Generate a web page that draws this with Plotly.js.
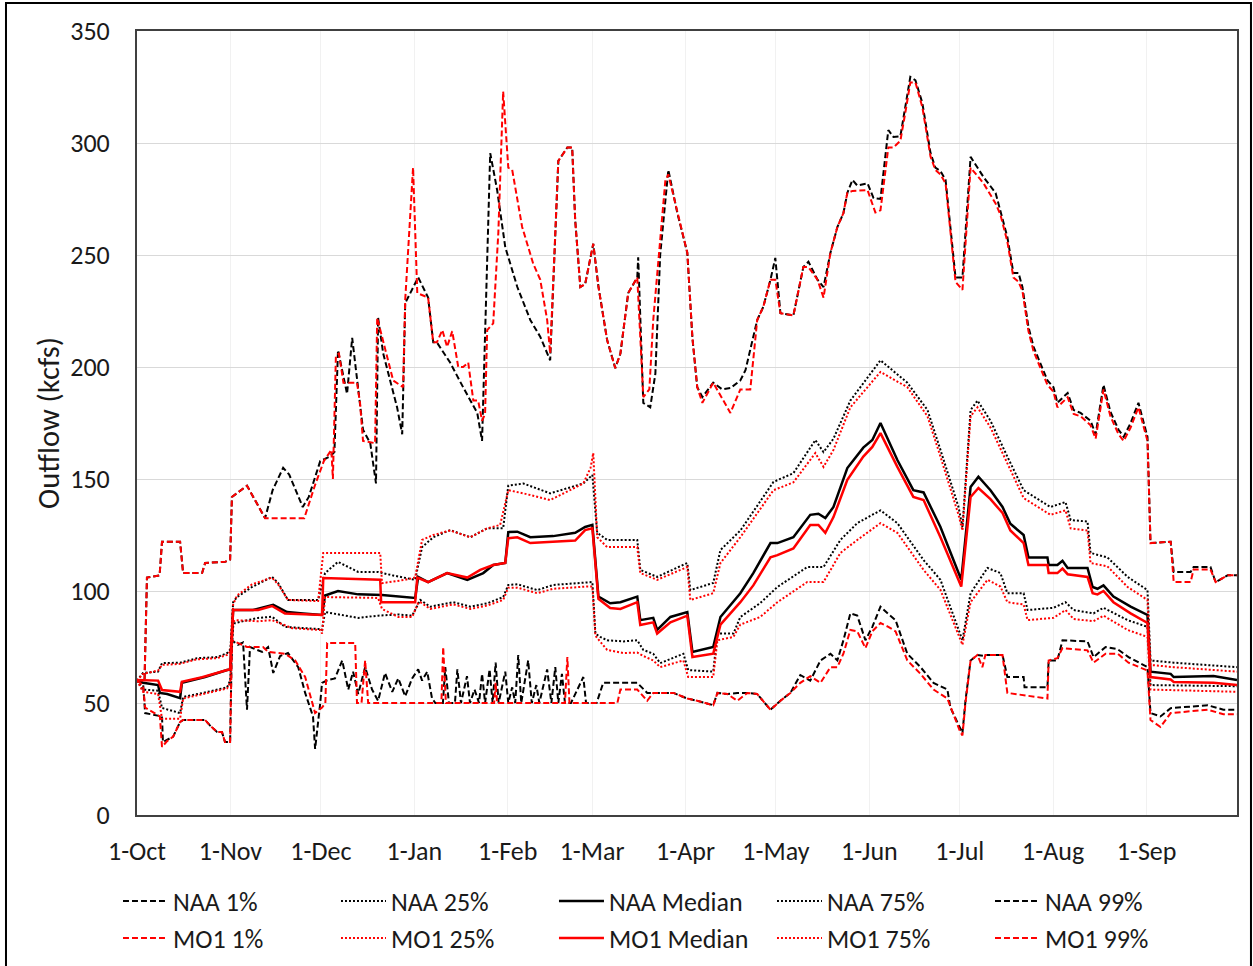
<!DOCTYPE html>
<html>
<head>
<meta charset="utf-8">
<script src="https://cdn.plot.ly/plotly-3.0.1.min.js"></script>
<style>html,body{margin:0;padding:0;background:#fff;}#chart{width:1253px;height:966px;}</style>
</head>
<body>
<div id="chart"></div>
<script>
// x = days since 1-Oct, y = outflow (kcfs)
const monthTicks = [0, 31, 61, 92, 123, 151, 182, 212, 243, 273, 304, 335];
const monthLabels = ['1-Oct', '1-Nov', '1-Dec', '1-Jan', '1-Feb', '1-Mar', '1-Apr', '1-May', '1-Jun', '1-Jul', '1-Aug', '1-Sep'];
const yTicks = [0, 50, 100, 150, 200, 250, 300, 350];

const naa1 = [[0,60],[2,59],[2.7,45.5],[8.3,44],[8.6,32.6],[12,35],[14.3,41.5],[15.3,42.4],[22.6,42.4],[24.2,40],[26.6,37],[28.2,37],[29.2,32.6],[30.9,32.6],[31.5,78],[33.5,76],[35.2,77],[36.5,47],[37.5,75],[41.5,72.8],[43.5,75],[45.2,63.4],[47.5,71],[50.1,72.3],[53.5,66],[55.8,54.5],[58.4,44],[59.1,29.5],[60.8,50],[61.4,59],[63.4,60.3],[65.7,61],[68.1,69],[70.1,56],[71.7,64],[73.4,54],[75.7,66],[78,56],[80,51],[82.3,63.4],[84.7,55],[86.7,61],[89,53],[91.3,61],[93.3,65],[94.6,60],[96.3,64],[97.9,52],[99,50],[101.5,50],[102.3,66],[103.5,50],[105.5,50],[106.3,65],[107.5,50],[109.5,62],[110.5,50],[112,56],[113.5,50],[114.5,63],[115.5,50],[117,65],[118,50],[119,68],[120,50],[122.2,64],[123.2,50],[124.5,57],[125.5,50],[126.5,71.4],[127.5,50],[129.8,69],[131,50],[132.5,58],[133.5,50],[136.1,65],[137.5,50],[138.8,66],[139.8,50],[141,63],[142,50],[144,50],[148.1,61.6],[149,50],[152.5,50],[154.7,59],[166,59],[169.3,54.5],[171.3,54.5],[178,54.5],[182.6,52],[185.9,51],[191.2,49],[192.6,54.5],[195.9,54],[199.2,54.5],[202.5,54.5],[205.8,54],[210.2,47],[213.5,51],[216.8,54.5],[220.1,62.5],[223.4,60],[226.8,69],[230.1,72],[232.4,69],[234.4,78],[236.7,90],[239,89],[241.7,78],[244,84],[246.7,93],[249.3,89.7],[251.7,87],[255.6,72],[260,66],[264.3,59],[268.9,56],[269.9,48],[273.2,38],[273.9,36.6],[274.9,51],[276.6,69],[278.9,71.4],[280.9,71],[281.5,71.4],[287.2,71.4],[288.8,61.6],[294.2,61.6],[294.5,57],[302.1,57],[302.5,69],[305.4,69],[307.1,78],[315.4,77.5],[317.4,70.5],[321.4,75],[325.4,74],[329,70.5],[335.3,66],[336.3,45.5],[339.6,44],[343,47.7],[355.3,49],[360.5,47],[365,47]];

const naa25 = [[0,60],[2,56],[7,55.5],[8.3,47.8],[14.3,45.5],[15.3,52.7],[21.9,54.5],[29.9,57],[30.9,60],[31.9,84],[32.5,85.7],[40.2,88],[44.8,88.5],[49.1,84],[60.8,83],[61.4,82.6],[62.4,90.6],[68.1,89.3],[73.4,88],[80,89],[86.7,89.5],[91.3,89],[93.3,93.8],[94,96],[97.3,93],[104.9,95],[110.6,93],[116.2,94.5],[121.5,97.3],[123.2,102.7],[126.2,103],[132.8,100.4],[138.1,102.7],[149.4,104],[151.1,104],[152.1,81],[153.7,79.5],[156,78],[161.4,77.5],[166,78],[168,73.7],[171.3,72],[173.6,67.8],[181.3,72],[182.9,64.7],[191.2,64],[192.6,81],[197.9,81],[200.2,88.4],[206.8,94.6],[212.5,101.8],[222.4,110.7],[227.8,110.7],[233.4,122.8],[239,130.3],[246.7,136],[252.3,130.3],[261,113.8],[266.6,105],[273.9,78],[276.6,99],[282.2,110.3],[286.5,108],[288.8,99],[294.2,99],[295.5,91.5],[304.1,92.5],[308.1,95],[310.8,91.5],[317.4,90],[320.7,92.5],[328.7,87],[335.3,84],[336.3,58],[365,57.5]];

const naaMedian = [[0,60],[2,59],[7,58],[7.6,54.5],[10,54],[14.3,52.2],[14.9,59],[21.6,61],[22.6,61.6],[29.9,64.7],[30.9,65],[31.9,91.5],[38.5,91.5],[45.2,93.8],[49.8,90.6],[55.1,90],[61.4,89.3],[62.4,98],[66.7,100],[73.4,98.5],[81.3,98.2],[92.3,96.9],[93.3,106.3],[96.6,104],[102.9,108],[109.6,105],[114.9,108],[118.2,111.6],[122.2,112.5],[123.2,126.3],[126.2,126.5],[130.5,124],[138.1,124.5],[145.4,126],[148.7,128.6],[151.1,129.5],[153.1,97.5],[157,94.5],[160.4,95],[166,97.5],[167,87],[171.3,88],[172.6,82.6],[177,88.4],[182.6,90.6],[184.3,72.8],[191.2,75],[193.6,88.4],[200.2,99],[204.5,108],[210.2,121.4],[212.5,121.4],[217.8,124],[223.4,134],[226.1,134.5],[228.4,132.6],[231.1,137.5],[235.7,154.9],[241,164],[244,167.4],[246.7,175],[252.3,158.5],[257.6,145],[261,144],[266.6,128.6],[273.5,105],[276.6,146.4],[279.2,151],[283.2,145],[287.2,137.5],[289.8,130],[294.2,125],[295.8,115],[302.1,115],[302.5,111.6],[305.4,111.6],[307.1,113.5],[308.8,110.3],[315.4,110.3],[317.1,101.8],[318.7,101],[320.7,102.5],[324,97.5],[329.7,93],[335.3,89.3],[336.3,64],[343,63],[344,61.6],[357.2,62],[365,60.3]];

const naa75 = [[0,60],[2,63.4],[7,64],[8.3,67.8],[14.3,68],[19.9,70],[26.6,70.5],[29.9,72.3],[31,74],[31.9,95],[33.2,97.3],[38.2,101.8],[44.8,106.3],[46.8,103.6],[50.1,96],[60.1,96],[62.4,108],[66.7,113],[73.4,108.5],[80,108.5],[84.7,107],[92.3,105],[94.6,119.6],[98.3,124],[103.9,127.2],[110.6,124],[116.2,128],[121.5,128],[123.2,147],[128.2,148],[137.1,143.6],[148.1,148],[151.1,151.8],[152.7,126],[156,122.8],[166,122.8],[167,109.4],[172.6,106.3],[182.6,112.5],[183.6,100.4],[191.2,103.6],[193.6,118.3],[200.2,127],[211.2,148.7],[217.8,152.6],[225.1,167.4],[227.8,162],[231.1,168],[236.7,185],[246.7,203],[255.6,193],[262.3,180.8],[266.6,163],[272.6,137.5],[273.9,128.6],[276.6,180.8],[278.9,185],[283.2,176],[288.8,160],[294.2,145],[303.1,137.5],[308.1,139.7],[309.8,131.7],[315.4,131],[316.4,117],[322,115],[328.7,106.3],[335.3,100.4],[336.3,69],[344,68],[365,66]];

const naa99 = [[0,60],[2.5,60],[3.3,106],[7.5,107],[8.3,122],[14.3,122],[15.3,108],[21.6,108],[22.6,112.5],[29.2,113],[30.9,114],[31.5,142],[36.5,147],[42.5,132.5],[45,145],[48.5,155],[50.5,152],[55,137.5],[57,142],[60.8,158],[64,160],[65.5,162],[66.7,207.5],[69.7,188],[71.4,213],[73,194],[75,172],[77.4,166],[79.3,148],[80,222],[81.7,206],[86.3,182],[88,170],[89,228.5],[93.3,240],[96.6,231],[98.3,211],[99.5,211],[103.9,202],[108.2,191],[112.9,179.5],[114.5,167],[117.2,295.5],[119.5,279],[122.2,253.5],[126.2,235.7],[130.5,221],[133.8,213.5],[137.1,203],[139.8,292],[142.8,298],[144.4,298],[145.4,265.6],[147.1,235.7],[148.7,237],[151.4,255],[153.1,236],[156,212],[158.7,199.5],[160.4,206],[163,233],[166,240],[166.3,249],[168,184],[170.3,182],[172,197],[173.6,250],[176.3,288],[179.3,268.7],[182.6,251],[184.3,213],[185.9,191],[187.6,186.6],[191.2,193],[194.2,190],[196.9,190.6],[200.2,194],[201.9,198.6],[205.8,221],[207.8,226.8],[210.2,239],[211.8,248.7],[213.5,224],[217.8,223],[221.1,244.6],[222.8,247],[225.8,239],[227.8,235.7],[230.1,251],[232.4,262.5],[234.4,268.7],[235.7,277.7],[237.4,283.5],[239,281],[242.4,282],[244.4,275.4],[246.7,275],[249.3,305.8],[251,302.7],[253.3,303],[255,316],[256.6,329.5],[258.3,328],[260.6,317.8],[263.3,295.5],[264.9,289],[266.6,287.5],[268.3,283.5],[271.6,240],[273.9,240],[276.6,293.8],[280.9,284.8],[284.9,277.7],[286.5,270],[288.8,258],[290.8,242],[292.5,242],[293.8,235.7],[295.8,217.9],[297.5,209],[299.8,201.8],[302.1,194],[304.1,191],[305.4,184],[308.8,188.4],[310.8,180.8],[313.1,179.5],[316.4,176],[318.1,170],[320.7,192],[323,180],[325.7,172],[327.4,168.8],[329.7,175],[332.3,184],[334,176],[335.3,168.8],[336.3,121.4],[343,122],[344,108.5],[349.6,108.5],[350.6,110.7],[356.2,110.7],[357.9,104],[361.9,107],[365,107]];

const mo1_1 = [[0,60],[2,58],[2.7,48],[7.6,44],[8.3,30.4],[10,33],[12,35],[14.3,41.5],[15.3,42.4],[22.6,42.4],[24.2,40],[26.6,37],[28.2,37],[29.2,32.6],[30.9,32.6],[31.5,78],[36.5,75],[41.8,75],[43.5,72.8],[46.8,72.3],[49.1,72],[52.5,69],[55.8,61.6],[59.1,45.5],[61.4,48],[62.5,50],[63.1,76.8],[72.4,76.8],[73,50],[74.5,50],[75.7,69],[76.7,50],[101,50],[101.6,75],[102.5,50],[118.5,50],[119,59],[119.5,50],[142,50],[142.8,70.5],[143.5,50],[159.4,50],[160.4,56],[166,56],[169.3,51],[171.3,54.5],[178,54.5],[182.6,52],[185.9,51],[191.2,49],[192.6,54.5],[195.9,54],[199.2,51],[202.5,54.5],[205.8,54],[210.2,47],[213.5,51],[216.8,54.5],[220.1,59],[223.4,62],[226.8,59],[230.1,66],[232.4,66],[234.4,72],[236.7,82.6],[239,82],[241.7,74.5],[244,82],[246.7,85.7],[249.3,84],[251.7,82],[255.6,69],[260,63],[264.3,56],[268.9,52],[273.2,37],[273.9,35.5],[274.9,50],[276.6,69],[278.9,71.4],[280.5,66],[281.5,71.4],[287.2,71.4],[288.8,54.5],[302.1,52],[302.5,69],[305.4,70],[307.1,74.5],[315.4,73.5],[317.4,68],[321.4,72],[325.4,72],[329,68],[335.3,64.5],[336.3,42.4],[339.6,39.3],[343,45.5],[355.3,47],[360.5,45],[365,45]];

const mo1_25 = [[0,60],[2,55],[7,54],[8.3,43],[14.3,43],[15.3,52],[21.9,54],[29.9,56.5],[30.9,59],[31.9,86],[32.5,87],[40.2,86.5],[44.8,87],[51.5,83.4],[60.8,82.6],[61.4,81],[62.4,97.3],[80,96.9],[81.3,92],[86.7,88.4],[91.3,88.4],[93.3,94.6],[94,95],[97.3,92],[104.9,94],[110.6,92],[116.2,93.5],[121.5,96],[123.2,101.5],[126.2,101.5],[132.8,99],[138.1,101],[149.4,102],[151.1,102],[152.1,80],[153.7,77.5],[156,73.7],[161.4,72.3],[166,72.5],[168,71],[171.3,69],[173.6,66],[181.3,69],[182.9,61.6],[191.2,61.6],[192.6,78],[197.9,79.5],[200.2,85],[206.8,88.4],[212.5,95],[222.4,104],[227.8,104],[233.4,117],[239,122.8],[246.7,130.3],[252.3,126],[261,109.4],[266.6,100.5],[273.9,76],[276.6,95],[282.2,105],[286.5,102],[288.8,95],[294.2,94],[295.5,87],[304.1,88],[308.1,91.5],[310.8,87.5],[317.4,86.5],[320.7,89],[328.7,82.6],[335.3,79.5],[336.3,56],[365,55]];

const mo1Median = [[0,60.3],[2,60.3],[7,60],[8.3,55.8],[14.3,55],[14.9,59.5],[21.6,61.5],[29.9,64.7],[30.9,65],[31.9,91.5],[40.2,91.5],[44.8,93.3],[49.1,90],[61.4,89.3],[61.8,105.8],[80.7,105],[81,95],[92.3,95],[93,106],[96.6,104],[102.9,108],[109.6,106],[113.9,109.4],[118.2,111.6],[122.2,112.5],[123.2,123.6],[126.2,124],[130.5,121.4],[138.1,122],[145.4,122.5],[148.7,127.2],[151.1,128],[153.1,96.5],[157,92.4],[160.4,92],[166,95],[167,84.8],[171.3,86],[172.6,81],[177,86],[182.6,89],[184.3,70.5],[191.2,72],[193.6,85],[200.2,95],[204.5,102.5],[210.2,115],[212.5,116],[217.8,119],[223.4,129.5],[226.1,129.5],[228.4,126],[231.1,133],[235.7,149.6],[241,160],[244,164.3],[246.7,170.5],[252.3,155.4],[257.6,142],[261,140.6],[266.6,124],[273.5,102],[276.6,142],[279.2,146],[283.2,141],[287.2,134.8],[289.8,127],[294.2,121.4],[295.8,111.6],[302.1,111.6],[302.5,108],[305.4,108],[307.1,110],[308.8,107.5],[315.4,106.3],[317.1,99],[318.7,98.5],[320.7,100],[324,95],[329.7,90],[335.3,85.7],[336.3,61.6],[343,60.5],[344,59.4],[357.2,59],[365,58]];

const mo1_75 = [[0,60],[2,63],[7,64.5],[8.3,67],[14.3,67.5],[19.9,69.5],[26.6,70],[29.9,71.5],[31,73],[31.9,94],[33.2,98],[38.2,103],[44.8,106],[46.8,103],[50.1,96],[60.1,95.5],[61.8,117],[80.7,117],[81.3,103.5],[89,105],[92.3,106],[94.6,122.8],[98.3,125],[103.9,127],[110.6,124],[116.2,128],[120.5,129.5],[123.2,145],[128.2,143.6],[137.1,140.6],[148.1,148],[150.5,155],[151.4,161.6],[152.7,124],[156,119.6],[166,119.6],[167,108],[172.6,105],[182.6,110.7],[183.6,96],[191.2,99],[193.6,112.5],[200.2,124],[211.2,145],[217.8,148.5],[225.1,161.6],[227.8,155.4],[231.1,163],[236.7,182],[246.7,197.8],[255.6,191],[262.3,178],[266.6,160],[272.6,134],[273.9,127],[276.6,178],[278.9,182],[283.2,173],[288.8,157],[294.2,141.5],[303.1,134],[308.1,136],[309.8,128],[315.4,127],[316.4,112.5],[322,111],[328.7,101.8],[335.3,96],[336.3,67],[344,66],[365,64]];

const mo1_99 = [[0,60],[2.5,60],[3.3,106],[7.5,107],[8.3,122],[14.3,122],[15.3,108],[21.6,108],[22.6,112.5],[29.2,113],[30.9,114],[31.5,142],[36.5,147],[42.5,132.5],[55.5,132.5],[59,147],[62,158],[64.5,163],[65,150],[66,205],[67,206],[68.5,193],[71,193],[73,193],[74,184],[75,167],[79,166],[79.7,222],[85,194],[88.3,191],[89,230],[91.6,289],[93,233],[96.6,231],[98.3,211],[99.5,211],[101.3,216.5],[102.9,209],[104.6,216],[106.6,200],[108.2,200],[109.9,202],[111.6,185],[113.2,185],[114.5,176],[115.5,179],[116.2,216.5],[118.2,219.5],[119.9,260],[121.5,323],[123.2,289],[124.5,288],[127.8,262.5],[131.5,246],[133.8,239],[136.1,221],[137.1,206],[139.8,292],[142.8,298],[144.4,298],[145.4,265.6],[147.1,235.7],[148.7,237],[151.4,255],[153.1,236],[156,212],[158.7,199.5],[160.4,206],[163,233],[166,240],[168,186.6],[170,190],[171.3,221],[175.3,283],[176.3,286],[179.3,268.7],[182.6,251],[184.3,213],[185.9,191],[187.6,184],[191.2,193],[196.9,179.5],[200.2,190],[203.5,190],[205.8,221],[207.8,226.8],[210.2,239],[211.8,239],[213.5,224],[217.8,223],[221.1,244.6],[222.8,244.6],[225.8,239],[227.8,231],[230.1,251],[232.4,262.5],[234.4,268.7],[235.7,277.7],[237.4,278.6],[242.4,279],[245,269],[246.7,270],[249.3,298],[251,298],[253.3,301],[255,314],[256.6,327],[258.3,327],[260.6,316],[263.3,294],[264.9,288],[266.6,286],[268.3,282],[271.6,238],[273.9,234.4],[276.6,289],[280.9,282],[284.9,273],[286.5,268],[288.8,256],[290.8,240],[292.5,238],[293.8,234],[295.8,216],[297.5,207],[299.8,199.5],[302.1,192],[304.1,189],[305.4,182],[308.8,186.5],[310.8,179],[313.1,178],[316.4,174],[318.1,168],[320.7,190],[323,178],[325.7,170],[327.4,167],[329.7,173],[332.3,182],[334,174],[335.3,167],[336.3,121.4],[343,122],[344,104],[349.6,104],[350.6,109.6],[356.2,109.6],[357.9,104],[361.9,107],[365,107]];

const seriesNames = ['NAA 1%', 'NAA 25%', 'NAA Median', 'NAA 75%', 'NAA 99%', 'MO1 1%', 'MO1 25%', 'MO1 Median', 'MO1 75%', 'MO1 99%'];
const seriesData = [naa1, naa25, naaMedian, naa75, naa99, mo1_1, mo1_25, mo1Median, mo1_75, mo1_99];

const BLACK = '#000000', RED = '#ff0000';
const styles = [
  {color: BLACK, width: 2, dash: '6px,3px'},
  {color: BLACK, width: 2, dash: '2px,2px'},
  {color: BLACK, width: 2.5, dash: 'solid'},
  {color: BLACK, width: 2, dash: '2px,2px'},
  {color: BLACK, width: 2, dash: '6px,3px'},
  {color: RED, width: 2, dash: '6px,3px'},
  {color: RED, width: 2, dash: '2px,2px'},
  {color: RED, width: 2.5, dash: 'solid'},
  {color: RED, width: 2, dash: '2px,2px'},
  {color: RED, width: 2, dash: '6px,3px'}
];

const traces = seriesData.map((d, i) => ({
  type: 'scatter',
  mode: 'lines',
  name: seriesNames[i],
  x: d.map(p => p[0]),
  y: d.map(p => p[1]),
  line: styles[i],
  hoverinfo: 'x+y+name'
}));

const FONT = 'Carlito, Lato, "Open Sans", sans-serif';
const TXT = '#1a1a1a';
const layout = {
  width: 1253,
  height: 966,
  margin: {l: 137, r: 16, t: 31, b: 151, autoexpand: false},
  paper_bgcolor: '#ffffff',
  plot_bgcolor: '#ffffff',
  font: {family: FONT, size: 26, color: TXT},
  showlegend: true,
  xaxis: {
    range: [0, 365],
    tickmode: 'array',
    tickvals: monthTicks,
    ticktext: monthLabels,
    ticks: '',
    showgrid: true,
    gridcolor: '#f1f1f1',
    gridwidth: 1,
    zeroline: false,
    showline: true,
    mirror: true,
    linecolor: '#404040',
    linewidth: 2,
    ticklabelstandoff: 12,
    tickfont: {family: FONT, size: 26, color: TXT}
  },
  yaxis: {
    range: [0, 350],
    tickmode: 'array',
    tickvals: yTicks,
    ticks: '',
    showgrid: true,
    gridcolor: '#d9d9d9',
    gridwidth: 1,
    zeroline: false,
    showline: true,
    mirror: true,
    linecolor: '#404040',
    linewidth: 2,
    ticklabelstandoff: 20,
    tickfont: {family: FONT, size: 26, color: TXT},
    title: {text: 'Outflow (kcfs)', font: {family: FONT, size: 30.5, color: TXT}, standoff: 2}
  },
  legend: {
    orientation: 'h',
    x: -0.0173,
    xanchor: 'left',
    y: -0.08,
    yanchor: 'top',
    entrywidth: 158,
    entrywidthmode: 'pixels',
    itemwidth: 45,
    font: {family: FONT, size: 26, color: TXT},
    bgcolor: 'rgba(0,0,0,0)',
    traceorder: 'normal'
  },
  shapes: [{
    type: 'rect', xref: 'paper', yref: 'paper',
    x0: -0.1191, x1: 1.0127, y0: -0.21, y1: 1.0357,
    line: {color: '#000000', width: 2}, fillcolor: 'rgba(0,0,0,0)', layer: 'above'
  }]
};

Plotly.newPlot('chart', traces, layout, {displayModeBar: false, staticPlot: true});
</script>
</body>
</html>
